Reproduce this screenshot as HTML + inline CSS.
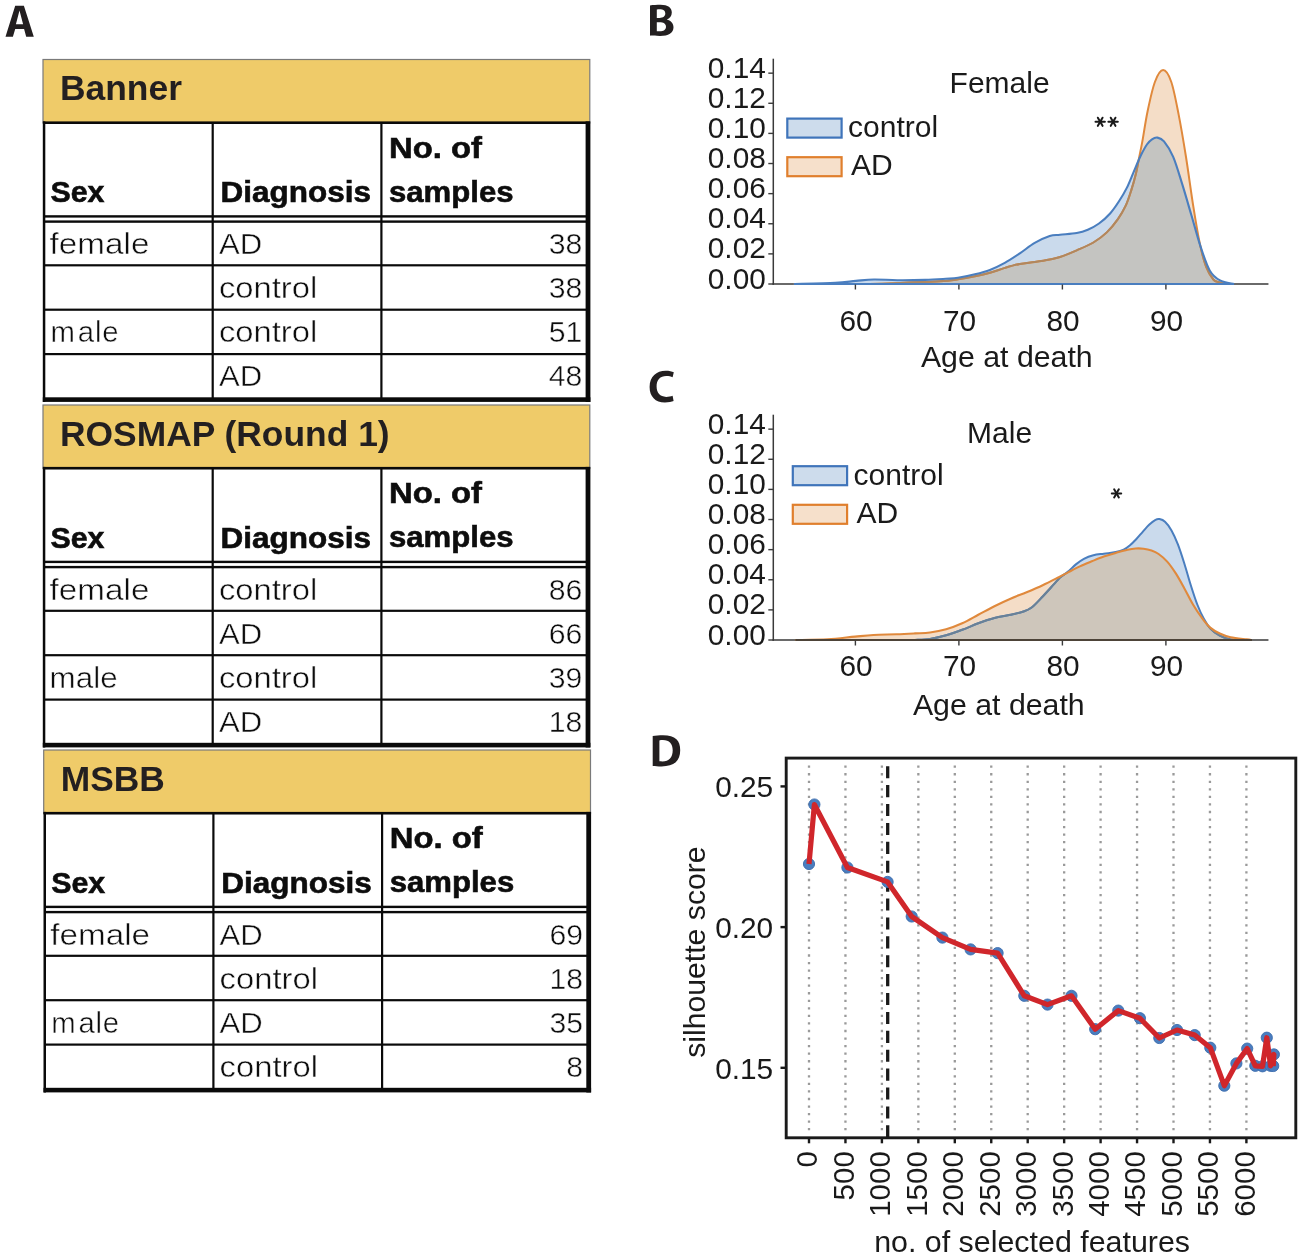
<!DOCTYPE html>
<html><head><meta charset="utf-8"><title>Figure</title>
<style>
html,body{margin:0;padding:0;background:#fff;}
body{width:1304px;height:1257px;overflow:hidden;}
svg{display:block;will-change:transform;}
text{font-family:"Liberation Sans", sans-serif;}
</style></head><body>
<svg width="1304" height="1257" viewBox="0 0 1304 1257">
<rect x="0" y="0" width="1304" height="1257" fill="#ffffff"/>

<path fill="#231f20" fill-rule="evenodd" d="M5.5,36.8 L15.2,5.8 L23.9,5.8 L33.8,36.8 L26.2,36.8 L24.1,29 L15.2,29 L12.9,36.8 Z M15.9,24.2 L23.1,24.2 L19.5,10.6 Z"/>
<path fill="#231f20" fill-rule="evenodd" transform="translate(640,0)" d="M10,5.4 C13,5.0 17,4.8 20.5,4.8 C28,4.8 31.8,7.8 31.8,12.4 C31.8,16 29.6,18.4 26.8,19.4 C30.6,20.4 33.5,23 33.5,27.2 C33.5,33 28.5,35.9 20,35.9 C15.5,35.9 12,35.7 10,35.5 Z M16.8,9.5 L16.8,17.9 L19.6,17.9 C23.2,17.9 25.3,16.3 25.3,13.5 C25.3,10.6 23,9.3 19.8,9.3 C18.3,9.3 17.4,9.4 16.8,9.5 Z M16.8,22.3 L16.8,31.2 C17.5,31.3 18.5,31.3 19.8,31.3 C23.4,31.3 26,29.9 26,26.7 C26,23.6 23.3,22.3 19.6,22.3 Z"/>
<path fill="#231f20" transform="translate(640,365)" d="M33.6,36.1 C31.8,36.9 28.6,37.5 24.9,37.5 C15.3,37.5 9.6,31.4 9.6,21.9 C9.6,11.6 16.4,5.7 25.7,5.7 C29.3,5.7 31.9,6.4 33.8,7.3 L32.6,12.3 C31,11.6 28.9,11.1 26.2,11.1 C20.2,11.1 16.6,15 16.6,21.6 C16.6,27.9 20,31.9 26.2,31.9 C28.6,31.9 31,31.4 32.6,30.8 Z"/>
<path fill="#231f20" fill-rule="evenodd" transform="translate(640,728)" d="M12.7,7.9 C15.5,7.4 19.3,7.2 23,7.2 C29.3,7.2 33.6,8.6 36.4,11.3 C39,13.8 40.2,17.3 40.2,22.2 C40.2,27.6 38.6,31.7 35.7,34.3 C32.7,37 27.9,38.4 21.6,38.4 C17.9,38.4 15,38.2 12.7,37.9 Z M19.4,33.3 C20.2,33.4 21.3,33.4 22.5,33.4 C29,33.4 32.7,29.6 32.7,22.3 C32.7,16 29.4,12.1 22.9,12.1 C21.3,12.1 20.1,12.2 19.4,12.4 Z"/>
<g transform="translate(0,0)">
<rect x="43.0" y="59.5" width="546.8" height="63.5" fill="#efcb69" stroke="#7a7a7a" stroke-width="1.2"/>
<text x="60" y="100.4" font-size="35.4" font-weight="bold" fill="#231f20">Banner</text>
<rect x="43.0" y="121.4" width="546.8" height="2.6" fill="#0a0a0a"/>
<rect x="42.8" y="121.4" width="2.5" height="280.6" fill="#0a0a0a"/>
<rect x="585.6" y="121.4" width="4.8" height="280.6" fill="#0a0a0a"/>
<rect x="42.8" y="397.3" width="547.6" height="4.6" fill="#0a0a0a"/>
<rect x="211.6" y="122.7" width="2.2" height="276.3" fill="#0a0a0a"/>
<rect x="380.3" y="122.7" width="2.2" height="276.3" fill="#0a0a0a"/>
<rect x="44" y="215.2" width="543" height="2.4" fill="#0a0a0a"/>
<rect x="44" y="220.4" width="543" height="2.4" fill="#0a0a0a"/>
<rect x="44" y="264.2" width="543" height="2.2" fill="#0a0a0a"/>
<rect x="44" y="308.6" width="543" height="2.2" fill="#0a0a0a"/>
<rect x="44" y="353.0" width="543" height="2.2" fill="#0a0a0a"/>
<text x="50.5" y="202.0" font-size="29.5" font-weight="bold" fill="#0d0d0d" stroke="#0d0d0d" stroke-width="0.6" textLength="54" lengthAdjust="spacingAndGlyphs">Sex</text>
<text x="220.5" y="202.0" font-size="29.5" font-weight="bold" fill="#0d0d0d" stroke="#0d0d0d" stroke-width="0.6" textLength="150.5" lengthAdjust="spacingAndGlyphs">Diagnosis</text>
<text x="389" y="157.5" font-size="29.5" font-weight="bold" fill="#0d0d0d" stroke="#0d0d0d" stroke-width="0.6" textLength="93" lengthAdjust="spacingAndGlyphs">No. of</text>
<text x="389" y="201.8" font-size="29.5" font-weight="bold" fill="#0d0d0d" stroke="#0d0d0d" stroke-width="0.6" textLength="124.5" lengthAdjust="spacingAndGlyphs">samples</text>
<text x="49.6" y="254.4" font-size="29.3" fill="#0d0d0d" stroke="#ffffff" stroke-width="0.45" textLength="99.8" lengthAdjust="spacingAndGlyphs">female</text>
<text x="218.9" y="254.4" font-size="29.3" fill="#0d0d0d" stroke="#ffffff" stroke-width="0.45" textLength="43.2" lengthAdjust="spacingAndGlyphs">AD</text>
<text x="582.3" y="254.4" font-size="30.2" fill="#0d0d0d" stroke="#ffffff" stroke-width="0.45" text-anchor="end">38</text>
<text x="218.9" y="298.3" font-size="29.3" fill="#0d0d0d" stroke="#ffffff" stroke-width="0.45" textLength="98.4" lengthAdjust="spacingAndGlyphs">control</text>
<text x="582.3" y="298.3" font-size="30.2" fill="#0d0d0d" stroke="#ffffff" stroke-width="0.45" text-anchor="end">38</text>
<text x="50.5" y="342.4" font-size="29.3" fill="#0d0d0d" stroke="#ffffff" stroke-width="0.45" letter-spacing="0.75">m<tspan dx="2.2">ale</tspan></text>
<text x="218.9" y="342.4" font-size="29.3" fill="#0d0d0d" stroke="#ffffff" stroke-width="0.45" textLength="98.4" lengthAdjust="spacingAndGlyphs">control</text>
<text x="582.3" y="342.4" font-size="30.2" fill="#0d0d0d" stroke="#ffffff" stroke-width="0.45" text-anchor="end">51</text>
<text x="218.9" y="386.3" font-size="29.3" fill="#0d0d0d" stroke="#ffffff" stroke-width="0.45" textLength="43.2" lengthAdjust="spacingAndGlyphs">AD</text>
<text x="582.3" y="386.3" font-size="30.2" fill="#0d0d0d" stroke="#ffffff" stroke-width="0.45" text-anchor="end">48</text>
</g>
<g transform="translate(0,0)">
<rect x="43.0" y="405.0" width="546.8" height="63.5" fill="#efcb69" stroke="#7a7a7a" stroke-width="1.2"/>
<text x="60" y="445.9" font-size="35.4" font-weight="bold" fill="#231f20">ROSMAP (Round 1)</text>
<rect x="43.0" y="466.9" width="546.8" height="2.6" fill="#0a0a0a"/>
<rect x="42.8" y="466.9" width="2.5" height="280.6" fill="#0a0a0a"/>
<rect x="585.6" y="466.9" width="4.8" height="280.6" fill="#0a0a0a"/>
<rect x="42.8" y="742.8" width="547.6" height="4.6" fill="#0a0a0a"/>
<rect x="211.6" y="468.2" width="2.2" height="276.3" fill="#0a0a0a"/>
<rect x="380.3" y="468.2" width="2.2" height="276.3" fill="#0a0a0a"/>
<rect x="44" y="560.7" width="543" height="2.4" fill="#0a0a0a"/>
<rect x="44" y="565.9" width="543" height="2.4" fill="#0a0a0a"/>
<rect x="44" y="609.7" width="543" height="2.2" fill="#0a0a0a"/>
<rect x="44" y="654.1" width="543" height="2.2" fill="#0a0a0a"/>
<rect x="44" y="698.5" width="543" height="2.2" fill="#0a0a0a"/>
<text x="50.5" y="547.5" font-size="29.5" font-weight="bold" fill="#0d0d0d" stroke="#0d0d0d" stroke-width="0.6" textLength="54" lengthAdjust="spacingAndGlyphs">Sex</text>
<text x="220.5" y="547.5" font-size="29.5" font-weight="bold" fill="#0d0d0d" stroke="#0d0d0d" stroke-width="0.6" textLength="150.5" lengthAdjust="spacingAndGlyphs">Diagnosis</text>
<text x="389" y="503.0" font-size="29.5" font-weight="bold" fill="#0d0d0d" stroke="#0d0d0d" stroke-width="0.6" textLength="93" lengthAdjust="spacingAndGlyphs">No. of</text>
<text x="389" y="547.3" font-size="29.5" font-weight="bold" fill="#0d0d0d" stroke="#0d0d0d" stroke-width="0.6" textLength="124.5" lengthAdjust="spacingAndGlyphs">samples</text>
<text x="49.6" y="599.9" font-size="29.3" fill="#0d0d0d" stroke="#ffffff" stroke-width="0.45" textLength="99.8" lengthAdjust="spacingAndGlyphs">female</text>
<text x="218.9" y="599.9" font-size="29.3" fill="#0d0d0d" stroke="#ffffff" stroke-width="0.45" textLength="98.4" lengthAdjust="spacingAndGlyphs">control</text>
<text x="582.3" y="599.9" font-size="30.2" fill="#0d0d0d" stroke="#ffffff" stroke-width="0.45" text-anchor="end">86</text>
<text x="218.9" y="643.8" font-size="29.3" fill="#0d0d0d" stroke="#ffffff" stroke-width="0.45" textLength="43.2" lengthAdjust="spacingAndGlyphs">AD</text>
<text x="582.3" y="643.8" font-size="30.2" fill="#0d0d0d" stroke="#ffffff" stroke-width="0.45" text-anchor="end">66</text>
<text x="49.6" y="687.9" font-size="29.3" fill="#0d0d0d" stroke="#ffffff" stroke-width="0.45" textLength="68" lengthAdjust="spacingAndGlyphs">male</text>
<text x="218.9" y="687.9" font-size="29.3" fill="#0d0d0d" stroke="#ffffff" stroke-width="0.45" textLength="98.4" lengthAdjust="spacingAndGlyphs">control</text>
<text x="582.3" y="687.9" font-size="30.2" fill="#0d0d0d" stroke="#ffffff" stroke-width="0.45" text-anchor="end">39</text>
<text x="218.9" y="731.8" font-size="29.3" fill="#0d0d0d" stroke="#ffffff" stroke-width="0.45" textLength="43.2" lengthAdjust="spacingAndGlyphs">AD</text>
<text x="582.3" y="731.8" font-size="30.2" fill="#0d0d0d" stroke="#ffffff" stroke-width="0.45" text-anchor="end">18</text>
</g>
<g transform="translate(0.7,0)">
<rect x="43.0" y="750.0" width="546.8" height="63.5" fill="#efcb69" stroke="#7a7a7a" stroke-width="1.2"/>
<text x="60" y="790.9" font-size="35.4" font-weight="bold" fill="#231f20">MSBB</text>
<rect x="43.0" y="811.9" width="546.8" height="2.6" fill="#0a0a0a"/>
<rect x="42.8" y="811.9" width="2.5" height="280.6" fill="#0a0a0a"/>
<rect x="585.6" y="811.9" width="4.8" height="280.6" fill="#0a0a0a"/>
<rect x="42.8" y="1087.8" width="547.6" height="4.6" fill="#0a0a0a"/>
<rect x="211.6" y="813.2" width="2.2" height="276.3" fill="#0a0a0a"/>
<rect x="380.3" y="813.2" width="2.2" height="276.3" fill="#0a0a0a"/>
<rect x="44" y="905.7" width="543" height="2.4" fill="#0a0a0a"/>
<rect x="44" y="910.9" width="543" height="2.4" fill="#0a0a0a"/>
<rect x="44" y="954.7" width="543" height="2.2" fill="#0a0a0a"/>
<rect x="44" y="999.1" width="543" height="2.2" fill="#0a0a0a"/>
<rect x="44" y="1043.5" width="543" height="2.2" fill="#0a0a0a"/>
<text x="50.5" y="892.5" font-size="29.5" font-weight="bold" fill="#0d0d0d" stroke="#0d0d0d" stroke-width="0.6" textLength="54" lengthAdjust="spacingAndGlyphs">Sex</text>
<text x="220.5" y="892.5" font-size="29.5" font-weight="bold" fill="#0d0d0d" stroke="#0d0d0d" stroke-width="0.6" textLength="150.5" lengthAdjust="spacingAndGlyphs">Diagnosis</text>
<text x="389" y="848.0" font-size="29.5" font-weight="bold" fill="#0d0d0d" stroke="#0d0d0d" stroke-width="0.6" textLength="93" lengthAdjust="spacingAndGlyphs">No. of</text>
<text x="389" y="892.3" font-size="29.5" font-weight="bold" fill="#0d0d0d" stroke="#0d0d0d" stroke-width="0.6" textLength="124.5" lengthAdjust="spacingAndGlyphs">samples</text>
<text x="49.6" y="944.9" font-size="29.3" fill="#0d0d0d" stroke="#ffffff" stroke-width="0.45" textLength="99.8" lengthAdjust="spacingAndGlyphs">female</text>
<text x="218.9" y="944.9" font-size="29.3" fill="#0d0d0d" stroke="#ffffff" stroke-width="0.45" textLength="43.2" lengthAdjust="spacingAndGlyphs">AD</text>
<text x="582.3" y="944.9" font-size="30.2" fill="#0d0d0d" stroke="#ffffff" stroke-width="0.45" text-anchor="end">69</text>
<text x="218.9" y="988.8" font-size="29.3" fill="#0d0d0d" stroke="#ffffff" stroke-width="0.45" textLength="98.4" lengthAdjust="spacingAndGlyphs">control</text>
<text x="582.3" y="988.8" font-size="30.2" fill="#0d0d0d" stroke="#ffffff" stroke-width="0.45" text-anchor="end">18</text>
<text x="50.5" y="1032.9" font-size="29.3" fill="#0d0d0d" stroke="#ffffff" stroke-width="0.45" letter-spacing="0.75">m<tspan dx="2.2">ale</tspan></text>
<text x="218.9" y="1032.9" font-size="29.3" fill="#0d0d0d" stroke="#ffffff" stroke-width="0.45" textLength="43.2" lengthAdjust="spacingAndGlyphs">AD</text>
<text x="582.3" y="1032.9" font-size="30.2" fill="#0d0d0d" stroke="#ffffff" stroke-width="0.45" text-anchor="end">35</text>
<text x="218.9" y="1076.8" font-size="29.3" fill="#0d0d0d" stroke="#ffffff" stroke-width="0.45" textLength="98.4" lengthAdjust="spacingAndGlyphs">control</text>
<text x="582.3" y="1076.8" font-size="30.2" fill="#0d0d0d" stroke="#ffffff" stroke-width="0.45" text-anchor="end">8</text>
</g>
<rect x="772.55" y="58.70" width="1.5" height="226.05" fill="#3a3a3a"/>
<rect x="772.55" y="283.25" width="495.90" height="1.5" fill="#3a3a3a"/>
<clipPath id="clipC284"><path d="M793.80,284.00 C800.70,283.82 824.85,283.42 835.20,282.90 C845.55,282.38 849.45,281.47 855.90,280.90 C862.35,280.33 867.00,279.62 873.90,279.50 C880.80,279.38 888.78,280.13 897.30,280.20 C905.82,280.27 916.93,280.13 925.00,279.90 C933.07,279.67 940.20,279.15 945.70,278.80 C951.20,278.45 953.13,278.55 958.00,277.80 C962.87,277.05 969.58,275.62 974.90,274.30 C980.22,272.98 984.92,271.80 989.90,269.90 C994.88,268.00 999.82,265.65 1004.80,262.90 C1009.78,260.15 1014.82,256.73 1019.80,253.40 C1024.78,250.07 1029.72,245.80 1034.70,242.90 C1039.68,240.00 1045.48,237.37 1049.70,236.00 C1053.92,234.63 1055.50,235.20 1060.00,234.70 C1064.50,234.20 1072.07,233.83 1076.70,233.00 C1081.33,232.17 1084.08,231.28 1087.80,229.70 C1091.52,228.12 1095.28,226.20 1099.00,223.50 C1102.72,220.80 1106.77,217.20 1110.10,213.50 C1113.43,209.80 1116.22,205.57 1119.00,201.30 C1121.78,197.03 1124.38,192.73 1126.80,187.90 C1129.22,183.07 1131.27,177.50 1133.50,172.30 C1135.73,167.10 1137.97,161.33 1140.20,156.70 C1142.43,152.07 1144.93,147.40 1146.90,144.50 C1148.87,141.60 1150.27,140.45 1152.00,139.30 C1153.73,138.15 1155.30,137.25 1157.30,137.60 C1159.30,137.95 1161.35,138.18 1164.00,141.40 C1166.65,144.62 1170.15,149.73 1173.20,156.90 C1176.25,164.07 1179.25,174.63 1182.30,184.40 C1185.35,194.17 1188.45,205.13 1191.50,215.50 C1194.55,225.87 1197.57,237.45 1200.60,246.60 C1203.63,255.75 1206.47,264.77 1209.70,270.40 C1212.93,276.03 1215.95,278.13 1220.00,280.40 C1224.05,282.67 1231.67,283.40 1234.00,284.00 L1234.00,284.00 L793.80,284.00 Z"/></clipPath>
<clipPath id="clipA284"><path d="M793.80,284.00 C806.45,283.98 851.30,284.12 869.70,283.90 C888.10,283.68 892.48,283.13 904.20,282.70 C915.92,282.27 931.03,281.87 940.00,281.30 C948.97,280.73 952.18,280.13 958.00,279.30 C963.82,278.47 969.58,277.38 974.90,276.30 C980.22,275.22 984.92,274.20 989.90,272.80 C994.88,271.40 999.82,269.38 1004.80,267.90 C1009.78,266.42 1014.82,264.90 1019.80,263.90 C1024.78,262.90 1029.72,262.65 1034.70,261.90 C1039.68,261.15 1045.48,260.22 1049.70,259.40 C1053.92,258.58 1055.50,258.52 1060.00,257.00 C1064.50,255.48 1071.13,252.72 1076.70,250.30 C1082.27,247.88 1088.38,245.48 1093.40,242.50 C1098.42,239.52 1102.72,236.30 1106.80,232.40 C1110.88,228.50 1114.75,223.55 1117.90,219.10 C1121.05,214.65 1123.47,210.53 1125.70,205.70 C1127.93,200.87 1129.63,195.30 1131.30,190.10 C1132.97,184.90 1134.40,179.88 1135.70,174.50 C1137.00,169.12 1137.98,163.37 1139.10,157.80 C1140.22,152.23 1140.98,148.87 1142.40,141.10 C1143.82,133.33 1145.52,121.05 1147.60,111.20 C1149.68,101.35 1152.32,88.85 1154.90,82.00 C1157.48,75.15 1160.37,70.10 1163.10,70.10 C1165.83,70.10 1168.70,74.53 1171.30,82.00 C1173.90,89.47 1176.25,102.40 1178.70,114.90 C1181.15,127.40 1183.57,141.77 1186.00,157.00 C1188.43,172.23 1191.02,191.98 1193.30,206.30 C1195.58,220.62 1197.57,232.83 1199.70,242.90 C1201.83,252.97 1203.82,260.60 1206.10,266.70 C1208.38,272.80 1211.27,276.92 1213.40,279.50 C1215.53,282.08 1216.80,281.45 1218.90,282.20 C1221.00,282.95 1224.82,283.70 1226.00,284.00 L1226.00,284.00 L793.80,284.00 Z"/></clipPath>
<path d="M793.80,284.00 C806.45,283.98 851.30,284.12 869.70,283.90 C888.10,283.68 892.48,283.13 904.20,282.70 C915.92,282.27 931.03,281.87 940.00,281.30 C948.97,280.73 952.18,280.13 958.00,279.30 C963.82,278.47 969.58,277.38 974.90,276.30 C980.22,275.22 984.92,274.20 989.90,272.80 C994.88,271.40 999.82,269.38 1004.80,267.90 C1009.78,266.42 1014.82,264.90 1019.80,263.90 C1024.78,262.90 1029.72,262.65 1034.70,261.90 C1039.68,261.15 1045.48,260.22 1049.70,259.40 C1053.92,258.58 1055.50,258.52 1060.00,257.00 C1064.50,255.48 1071.13,252.72 1076.70,250.30 C1082.27,247.88 1088.38,245.48 1093.40,242.50 C1098.42,239.52 1102.72,236.30 1106.80,232.40 C1110.88,228.50 1114.75,223.55 1117.90,219.10 C1121.05,214.65 1123.47,210.53 1125.70,205.70 C1127.93,200.87 1129.63,195.30 1131.30,190.10 C1132.97,184.90 1134.40,179.88 1135.70,174.50 C1137.00,169.12 1137.98,163.37 1139.10,157.80 C1140.22,152.23 1140.98,148.87 1142.40,141.10 C1143.82,133.33 1145.52,121.05 1147.60,111.20 C1149.68,101.35 1152.32,88.85 1154.90,82.00 C1157.48,75.15 1160.37,70.10 1163.10,70.10 C1165.83,70.10 1168.70,74.53 1171.30,82.00 C1173.90,89.47 1176.25,102.40 1178.70,114.90 C1181.15,127.40 1183.57,141.77 1186.00,157.00 C1188.43,172.23 1191.02,191.98 1193.30,206.30 C1195.58,220.62 1197.57,232.83 1199.70,242.90 C1201.83,252.97 1203.82,260.60 1206.10,266.70 C1208.38,272.80 1211.27,276.92 1213.40,279.50 C1215.53,282.08 1216.80,281.45 1218.90,282.20 C1221.00,282.95 1224.82,283.70 1226.00,284.00 L1226.00,284.00 L793.80,284.00 Z" fill="#f4ddc7"/>
<path d="M793.80,284.00 C800.70,283.82 824.85,283.42 835.20,282.90 C845.55,282.38 849.45,281.47 855.90,280.90 C862.35,280.33 867.00,279.62 873.90,279.50 C880.80,279.38 888.78,280.13 897.30,280.20 C905.82,280.27 916.93,280.13 925.00,279.90 C933.07,279.67 940.20,279.15 945.70,278.80 C951.20,278.45 953.13,278.55 958.00,277.80 C962.87,277.05 969.58,275.62 974.90,274.30 C980.22,272.98 984.92,271.80 989.90,269.90 C994.88,268.00 999.82,265.65 1004.80,262.90 C1009.78,260.15 1014.82,256.73 1019.80,253.40 C1024.78,250.07 1029.72,245.80 1034.70,242.90 C1039.68,240.00 1045.48,237.37 1049.70,236.00 C1053.92,234.63 1055.50,235.20 1060.00,234.70 C1064.50,234.20 1072.07,233.83 1076.70,233.00 C1081.33,232.17 1084.08,231.28 1087.80,229.70 C1091.52,228.12 1095.28,226.20 1099.00,223.50 C1102.72,220.80 1106.77,217.20 1110.10,213.50 C1113.43,209.80 1116.22,205.57 1119.00,201.30 C1121.78,197.03 1124.38,192.73 1126.80,187.90 C1129.22,183.07 1131.27,177.50 1133.50,172.30 C1135.73,167.10 1137.97,161.33 1140.20,156.70 C1142.43,152.07 1144.93,147.40 1146.90,144.50 C1148.87,141.60 1150.27,140.45 1152.00,139.30 C1153.73,138.15 1155.30,137.25 1157.30,137.60 C1159.30,137.95 1161.35,138.18 1164.00,141.40 C1166.65,144.62 1170.15,149.73 1173.20,156.90 C1176.25,164.07 1179.25,174.63 1182.30,184.40 C1185.35,194.17 1188.45,205.13 1191.50,215.50 C1194.55,225.87 1197.57,237.45 1200.60,246.60 C1203.63,255.75 1206.47,264.77 1209.70,270.40 C1212.93,276.03 1215.95,278.13 1220.00,280.40 C1224.05,282.67 1231.67,283.40 1234.00,284.00 L1234.00,284.00 L793.80,284.00 Z" fill="#cadaec"/>
<path d="M793.80,284.00 C800.70,283.82 824.85,283.42 835.20,282.90 C845.55,282.38 849.45,281.47 855.90,280.90 C862.35,280.33 867.00,279.62 873.90,279.50 C880.80,279.38 888.78,280.13 897.30,280.20 C905.82,280.27 916.93,280.13 925.00,279.90 C933.07,279.67 940.20,279.15 945.70,278.80 C951.20,278.45 953.13,278.55 958.00,277.80 C962.87,277.05 969.58,275.62 974.90,274.30 C980.22,272.98 984.92,271.80 989.90,269.90 C994.88,268.00 999.82,265.65 1004.80,262.90 C1009.78,260.15 1014.82,256.73 1019.80,253.40 C1024.78,250.07 1029.72,245.80 1034.70,242.90 C1039.68,240.00 1045.48,237.37 1049.70,236.00 C1053.92,234.63 1055.50,235.20 1060.00,234.70 C1064.50,234.20 1072.07,233.83 1076.70,233.00 C1081.33,232.17 1084.08,231.28 1087.80,229.70 C1091.52,228.12 1095.28,226.20 1099.00,223.50 C1102.72,220.80 1106.77,217.20 1110.10,213.50 C1113.43,209.80 1116.22,205.57 1119.00,201.30 C1121.78,197.03 1124.38,192.73 1126.80,187.90 C1129.22,183.07 1131.27,177.50 1133.50,172.30 C1135.73,167.10 1137.97,161.33 1140.20,156.70 C1142.43,152.07 1144.93,147.40 1146.90,144.50 C1148.87,141.60 1150.27,140.45 1152.00,139.30 C1153.73,138.15 1155.30,137.25 1157.30,137.60 C1159.30,137.95 1161.35,138.18 1164.00,141.40 C1166.65,144.62 1170.15,149.73 1173.20,156.90 C1176.25,164.07 1179.25,174.63 1182.30,184.40 C1185.35,194.17 1188.45,205.13 1191.50,215.50 C1194.55,225.87 1197.57,237.45 1200.60,246.60 C1203.63,255.75 1206.47,264.77 1209.70,270.40 C1212.93,276.03 1215.95,278.13 1220.00,280.40 C1224.05,282.67 1231.67,283.40 1234.00,284.00 L1234.00,284.00 L793.80,284.00 Z" fill="#c4c4c1" clip-path="url(#clipA284)"/>
<path d="M793.80,284.00 C806.45,283.98 851.30,284.12 869.70,283.90 C888.10,283.68 892.48,283.13 904.20,282.70 C915.92,282.27 931.03,281.87 940.00,281.30 C948.97,280.73 952.18,280.13 958.00,279.30 C963.82,278.47 969.58,277.38 974.90,276.30 C980.22,275.22 984.92,274.20 989.90,272.80 C994.88,271.40 999.82,269.38 1004.80,267.90 C1009.78,266.42 1014.82,264.90 1019.80,263.90 C1024.78,262.90 1029.72,262.65 1034.70,261.90 C1039.68,261.15 1045.48,260.22 1049.70,259.40 C1053.92,258.58 1055.50,258.52 1060.00,257.00 C1064.50,255.48 1071.13,252.72 1076.70,250.30 C1082.27,247.88 1088.38,245.48 1093.40,242.50 C1098.42,239.52 1102.72,236.30 1106.80,232.40 C1110.88,228.50 1114.75,223.55 1117.90,219.10 C1121.05,214.65 1123.47,210.53 1125.70,205.70 C1127.93,200.87 1129.63,195.30 1131.30,190.10 C1132.97,184.90 1134.40,179.88 1135.70,174.50 C1137.00,169.12 1137.98,163.37 1139.10,157.80 C1140.22,152.23 1140.98,148.87 1142.40,141.10 C1143.82,133.33 1145.52,121.05 1147.60,111.20 C1149.68,101.35 1152.32,88.85 1154.90,82.00 C1157.48,75.15 1160.37,70.10 1163.10,70.10 C1165.83,70.10 1168.70,74.53 1171.30,82.00 C1173.90,89.47 1176.25,102.40 1178.70,114.90 C1181.15,127.40 1183.57,141.77 1186.00,157.00 C1188.43,172.23 1191.02,191.98 1193.30,206.30 C1195.58,220.62 1197.57,232.83 1199.70,242.90 C1201.83,252.97 1203.82,260.60 1206.10,266.70 C1208.38,272.80 1211.27,276.92 1213.40,279.50 C1215.53,282.08 1216.80,281.45 1218.90,282.20 C1221.00,282.95 1224.82,283.70 1226.00,284.00" fill="none" stroke="#e0893c" stroke-width="2"/>
<path d="M793.80,284.00 C806.45,283.98 851.30,284.12 869.70,283.90 C888.10,283.68 892.48,283.13 904.20,282.70 C915.92,282.27 931.03,281.87 940.00,281.30 C948.97,280.73 952.18,280.13 958.00,279.30 C963.82,278.47 969.58,277.38 974.90,276.30 C980.22,275.22 984.92,274.20 989.90,272.80 C994.88,271.40 999.82,269.38 1004.80,267.90 C1009.78,266.42 1014.82,264.90 1019.80,263.90 C1024.78,262.90 1029.72,262.65 1034.70,261.90 C1039.68,261.15 1045.48,260.22 1049.70,259.40 C1053.92,258.58 1055.50,258.52 1060.00,257.00 C1064.50,255.48 1071.13,252.72 1076.70,250.30 C1082.27,247.88 1088.38,245.48 1093.40,242.50 C1098.42,239.52 1102.72,236.30 1106.80,232.40 C1110.88,228.50 1114.75,223.55 1117.90,219.10 C1121.05,214.65 1123.47,210.53 1125.70,205.70 C1127.93,200.87 1129.63,195.30 1131.30,190.10 C1132.97,184.90 1134.40,179.88 1135.70,174.50 C1137.00,169.12 1137.98,163.37 1139.10,157.80 C1140.22,152.23 1140.98,148.87 1142.40,141.10 C1143.82,133.33 1145.52,121.05 1147.60,111.20 C1149.68,101.35 1152.32,88.85 1154.90,82.00 C1157.48,75.15 1160.37,70.10 1163.10,70.10 C1165.83,70.10 1168.70,74.53 1171.30,82.00 C1173.90,89.47 1176.25,102.40 1178.70,114.90 C1181.15,127.40 1183.57,141.77 1186.00,157.00 C1188.43,172.23 1191.02,191.98 1193.30,206.30 C1195.58,220.62 1197.57,232.83 1199.70,242.90 C1201.83,252.97 1203.82,260.60 1206.10,266.70 C1208.38,272.80 1211.27,276.92 1213.40,279.50 C1215.53,282.08 1216.80,281.45 1218.90,282.20 C1221.00,282.95 1224.82,283.70 1226.00,284.00" fill="none" stroke="#b0875f" stroke-width="2" clip-path="url(#clipC284)"/>
<path d="M793.80,284.00 C800.70,283.82 824.85,283.42 835.20,282.90 C845.55,282.38 849.45,281.47 855.90,280.90 C862.35,280.33 867.00,279.62 873.90,279.50 C880.80,279.38 888.78,280.13 897.30,280.20 C905.82,280.27 916.93,280.13 925.00,279.90 C933.07,279.67 940.20,279.15 945.70,278.80 C951.20,278.45 953.13,278.55 958.00,277.80 C962.87,277.05 969.58,275.62 974.90,274.30 C980.22,272.98 984.92,271.80 989.90,269.90 C994.88,268.00 999.82,265.65 1004.80,262.90 C1009.78,260.15 1014.82,256.73 1019.80,253.40 C1024.78,250.07 1029.72,245.80 1034.70,242.90 C1039.68,240.00 1045.48,237.37 1049.70,236.00 C1053.92,234.63 1055.50,235.20 1060.00,234.70 C1064.50,234.20 1072.07,233.83 1076.70,233.00 C1081.33,232.17 1084.08,231.28 1087.80,229.70 C1091.52,228.12 1095.28,226.20 1099.00,223.50 C1102.72,220.80 1106.77,217.20 1110.10,213.50 C1113.43,209.80 1116.22,205.57 1119.00,201.30 C1121.78,197.03 1124.38,192.73 1126.80,187.90 C1129.22,183.07 1131.27,177.50 1133.50,172.30 C1135.73,167.10 1137.97,161.33 1140.20,156.70 C1142.43,152.07 1144.93,147.40 1146.90,144.50 C1148.87,141.60 1150.27,140.45 1152.00,139.30 C1153.73,138.15 1155.30,137.25 1157.30,137.60 C1159.30,137.95 1161.35,138.18 1164.00,141.40 C1166.65,144.62 1170.15,149.73 1173.20,156.90 C1176.25,164.07 1179.25,174.63 1182.30,184.40 C1185.35,194.17 1188.45,205.13 1191.50,215.50 C1194.55,225.87 1197.57,237.45 1200.60,246.60 C1203.63,255.75 1206.47,264.77 1209.70,270.40 C1212.93,276.03 1215.95,278.13 1220.00,280.40 C1224.05,282.67 1231.67,283.40 1234.00,284.00 L1234.00,284.00 L793.80,284.00 Z" fill="none" stroke="#4a7ebf" stroke-width="2.1"/>
<rect x="768.30" y="283.30" width="5" height="1.4" fill="#3a3a3a"/>
<text x="765.8" y="288.50" font-size="29.8" fill="#1a1a1a" text-anchor="end">0.00</text>
<rect x="768.30" y="253.18" width="5" height="1.4" fill="#3a3a3a"/>
<text x="765.8" y="258.38" font-size="29.8" fill="#1a1a1a" text-anchor="end">0.02</text>
<rect x="768.30" y="223.06" width="5" height="1.4" fill="#3a3a3a"/>
<text x="765.8" y="228.26" font-size="29.8" fill="#1a1a1a" text-anchor="end">0.04</text>
<rect x="768.30" y="192.94" width="5" height="1.4" fill="#3a3a3a"/>
<text x="765.8" y="198.14" font-size="29.8" fill="#1a1a1a" text-anchor="end">0.06</text>
<rect x="768.30" y="162.82" width="5" height="1.4" fill="#3a3a3a"/>
<text x="765.8" y="168.02" font-size="29.8" fill="#1a1a1a" text-anchor="end">0.08</text>
<rect x="768.30" y="132.70" width="5" height="1.4" fill="#3a3a3a"/>
<text x="765.8" y="137.90" font-size="29.8" fill="#1a1a1a" text-anchor="end">0.10</text>
<rect x="768.30" y="102.58" width="5" height="1.4" fill="#3a3a3a"/>
<text x="765.8" y="107.78" font-size="29.8" fill="#1a1a1a" text-anchor="end">0.12</text>
<rect x="768.30" y="72.46" width="5" height="1.4" fill="#3a3a3a"/>
<text x="765.8" y="77.66" font-size="29.8" fill="#1a1a1a" text-anchor="end">0.14</text>
<rect x="854.70" y="284.50" width="1.4" height="5" fill="#3a3a3a"/>
<text x="856.00" y="331.20" font-size="29.8" fill="#1a1a1a" text-anchor="middle">60</text>
<rect x="958.20" y="284.50" width="1.4" height="5" fill="#3a3a3a"/>
<text x="959.50" y="331.20" font-size="29.8" fill="#1a1a1a" text-anchor="middle">70</text>
<rect x="1061.70" y="284.50" width="1.4" height="5" fill="#3a3a3a"/>
<text x="1063.00" y="331.20" font-size="29.8" fill="#1a1a1a" text-anchor="middle">80</text>
<rect x="1165.20" y="284.50" width="1.4" height="5" fill="#3a3a3a"/>
<text x="1166.50" y="331.20" font-size="29.8" fill="#1a1a1a" text-anchor="middle">90</text>
<text x="1006.80" y="366.60" font-size="30.3" fill="#1a1a1a" text-anchor="middle">Age at death</text>
<text x="999.6" y="92.50" font-size="30" fill="#1a1a1a" text-anchor="middle">Female</text>
<g stroke="#1a1a1a" stroke-width="2.0" stroke-linecap="round"><line x1="1101.10" y1="121.80" x2="1104.90" y2="121.80"/><line x1="1100.65" y1="122.58" x2="1102.55" y2="125.87"/><line x1="1099.75" y1="122.58" x2="1097.85" y2="125.87"/><line x1="1099.30" y1="121.80" x2="1095.50" y2="121.80"/><line x1="1099.75" y1="121.02" x2="1097.85" y2="117.73"/><line x1="1100.65" y1="121.02" x2="1102.55" y2="117.73"/></g>
<g stroke="#1a1a1a" stroke-width="2.0" stroke-linecap="round"><line x1="1114.00" y1="121.80" x2="1117.80" y2="121.80"/><line x1="1113.55" y1="122.58" x2="1115.45" y2="125.87"/><line x1="1112.65" y1="122.58" x2="1110.75" y2="125.87"/><line x1="1112.20" y1="121.80" x2="1108.40" y2="121.80"/><line x1="1112.65" y1="121.02" x2="1110.75" y2="117.73"/><line x1="1113.55" y1="121.02" x2="1115.45" y2="117.73"/></g>
<rect x="787.30" y="118.60" width="54.3" height="19" fill="#cddcec" stroke="#3f74ba" stroke-width="2.2"/>
<rect x="787.30" y="157.20" width="54.3" height="19" fill="#f6e0cb" stroke="#e07f2d" stroke-width="2.2"/>
<text x="848.10" y="136.90" font-size="30" fill="#1a1a1a">control</text>
<text x="850.90" y="175.40" font-size="30" fill="#1a1a1a">AD</text>
<rect x="772.55" y="414.70" width="1.5" height="226.05" fill="#3a3a3a"/>
<rect x="772.55" y="639.25" width="495.90" height="1.5" fill="#3a3a3a"/>
<clipPath id="clipC640"><path d="M915.00,640.00 C917.50,639.82 924.82,639.70 930.00,638.90 C935.18,638.10 940.73,636.72 946.10,635.20 C951.47,633.68 956.83,631.78 962.20,629.80 C967.57,627.82 972.93,625.27 978.30,623.30 C983.67,621.33 989.03,619.42 994.40,618.00 C999.77,616.58 1005.67,615.88 1010.50,614.80 C1015.33,613.72 1019.82,612.77 1023.40,611.50 C1026.98,610.23 1028.78,609.70 1032.00,607.20 C1035.22,604.70 1039.12,600.25 1042.70,596.50 C1046.28,592.75 1050.62,587.87 1053.50,584.70 C1056.38,581.53 1057.58,579.68 1060.00,577.50 C1062.42,575.32 1065.35,573.78 1068.00,571.60 C1070.65,569.42 1073.25,566.52 1075.90,564.40 C1078.55,562.28 1080.98,560.42 1083.90,558.90 C1086.82,557.38 1090.08,556.17 1093.40,555.30 C1096.72,554.43 1100.08,554.23 1103.80,553.70 C1107.52,553.17 1112.40,552.77 1115.70,552.10 C1119.00,551.43 1121.22,550.83 1123.60,549.70 C1125.98,548.57 1127.87,547.08 1130.00,545.30 C1132.13,543.52 1134.28,541.25 1136.40,539.00 C1138.52,536.75 1140.58,534.18 1142.70,531.80 C1144.82,529.42 1146.97,526.70 1149.10,524.70 C1151.23,522.70 1153.77,520.73 1155.50,519.80 C1157.23,518.87 1157.92,518.77 1159.50,519.10 C1161.08,519.43 1163.00,519.92 1165.00,521.80 C1167.00,523.68 1169.35,526.63 1171.50,530.40 C1173.65,534.17 1175.75,538.85 1177.90,544.40 C1180.05,549.95 1182.25,556.90 1184.40,563.70 C1186.55,570.50 1188.65,578.40 1190.80,585.20 C1192.95,592.00 1195.15,598.95 1197.30,604.50 C1199.45,610.05 1201.55,614.55 1203.70,618.50 C1205.85,622.45 1207.52,625.33 1210.20,628.20 C1212.88,631.07 1216.40,633.83 1219.80,635.70 C1223.20,637.57 1227.23,638.68 1230.60,639.40 C1233.97,640.12 1238.43,639.90 1240.00,640.00 L1240.00,640.00 L915.00,640.00 Z"/></clipPath>
<clipPath id="clipA640"><path d="M795.30,640.00 C800.67,639.90 817.53,639.97 827.50,639.40 C837.47,638.83 847.43,637.33 855.10,636.60 C862.77,635.87 866.60,635.38 873.50,635.00 C880.40,634.62 889.58,634.57 896.50,634.30 C903.42,634.03 909.42,633.70 915.00,633.40 C920.58,633.10 924.82,633.18 930.00,632.50 C935.18,631.82 940.73,630.83 946.10,629.30 C951.47,627.77 956.83,625.72 962.20,623.30 C967.57,620.88 972.93,617.65 978.30,614.80 C983.67,611.95 989.03,608.88 994.40,606.20 C999.77,603.52 1005.13,601.03 1010.50,598.70 C1015.87,596.37 1021.23,594.45 1026.60,592.20 C1031.97,589.95 1037.33,587.70 1042.70,585.20 C1048.07,582.70 1054.58,579.33 1058.80,577.20 C1063.02,575.07 1064.48,574.20 1068.00,572.40 C1071.52,570.60 1075.93,568.25 1079.90,566.40 C1083.87,564.55 1087.82,562.95 1091.80,561.30 C1095.78,559.65 1099.82,557.90 1103.80,556.50 C1107.78,555.10 1111.73,554.03 1115.70,552.90 C1119.67,551.77 1124.28,550.43 1127.60,549.70 C1130.92,548.97 1132.95,548.67 1135.60,548.50 C1138.25,548.33 1140.85,548.37 1143.50,548.70 C1146.15,549.03 1148.98,549.62 1151.50,550.50 C1154.02,551.38 1155.98,552.15 1158.60,554.00 C1161.22,555.85 1164.33,558.37 1167.20,561.60 C1170.07,564.83 1172.93,568.93 1175.80,573.40 C1178.67,577.87 1181.53,583.22 1184.40,588.40 C1187.27,593.58 1190.13,599.67 1193.00,604.50 C1195.87,609.33 1198.73,613.55 1201.60,617.40 C1204.47,621.25 1207.17,624.92 1210.20,627.60 C1213.23,630.28 1216.40,631.88 1219.80,633.50 C1223.20,635.12 1226.12,636.32 1230.60,637.30 C1235.08,638.28 1243.13,638.95 1246.70,639.40 C1250.27,639.85 1251.12,639.90 1252.00,640.00 L1252.00,640.00 L795.30,640.00 Z"/></clipPath>
<path d="M795.30,640.00 C800.67,639.90 817.53,639.97 827.50,639.40 C837.47,638.83 847.43,637.33 855.10,636.60 C862.77,635.87 866.60,635.38 873.50,635.00 C880.40,634.62 889.58,634.57 896.50,634.30 C903.42,634.03 909.42,633.70 915.00,633.40 C920.58,633.10 924.82,633.18 930.00,632.50 C935.18,631.82 940.73,630.83 946.10,629.30 C951.47,627.77 956.83,625.72 962.20,623.30 C967.57,620.88 972.93,617.65 978.30,614.80 C983.67,611.95 989.03,608.88 994.40,606.20 C999.77,603.52 1005.13,601.03 1010.50,598.70 C1015.87,596.37 1021.23,594.45 1026.60,592.20 C1031.97,589.95 1037.33,587.70 1042.70,585.20 C1048.07,582.70 1054.58,579.33 1058.80,577.20 C1063.02,575.07 1064.48,574.20 1068.00,572.40 C1071.52,570.60 1075.93,568.25 1079.90,566.40 C1083.87,564.55 1087.82,562.95 1091.80,561.30 C1095.78,559.65 1099.82,557.90 1103.80,556.50 C1107.78,555.10 1111.73,554.03 1115.70,552.90 C1119.67,551.77 1124.28,550.43 1127.60,549.70 C1130.92,548.97 1132.95,548.67 1135.60,548.50 C1138.25,548.33 1140.85,548.37 1143.50,548.70 C1146.15,549.03 1148.98,549.62 1151.50,550.50 C1154.02,551.38 1155.98,552.15 1158.60,554.00 C1161.22,555.85 1164.33,558.37 1167.20,561.60 C1170.07,564.83 1172.93,568.93 1175.80,573.40 C1178.67,577.87 1181.53,583.22 1184.40,588.40 C1187.27,593.58 1190.13,599.67 1193.00,604.50 C1195.87,609.33 1198.73,613.55 1201.60,617.40 C1204.47,621.25 1207.17,624.92 1210.20,627.60 C1213.23,630.28 1216.40,631.88 1219.80,633.50 C1223.20,635.12 1226.12,636.32 1230.60,637.30 C1235.08,638.28 1243.13,638.95 1246.70,639.40 C1250.27,639.85 1251.12,639.90 1252.00,640.00 L1252.00,640.00 L795.30,640.00 Z" fill="#f4ddc7"/>
<path d="M915.00,640.00 C917.50,639.82 924.82,639.70 930.00,638.90 C935.18,638.10 940.73,636.72 946.10,635.20 C951.47,633.68 956.83,631.78 962.20,629.80 C967.57,627.82 972.93,625.27 978.30,623.30 C983.67,621.33 989.03,619.42 994.40,618.00 C999.77,616.58 1005.67,615.88 1010.50,614.80 C1015.33,613.72 1019.82,612.77 1023.40,611.50 C1026.98,610.23 1028.78,609.70 1032.00,607.20 C1035.22,604.70 1039.12,600.25 1042.70,596.50 C1046.28,592.75 1050.62,587.87 1053.50,584.70 C1056.38,581.53 1057.58,579.68 1060.00,577.50 C1062.42,575.32 1065.35,573.78 1068.00,571.60 C1070.65,569.42 1073.25,566.52 1075.90,564.40 C1078.55,562.28 1080.98,560.42 1083.90,558.90 C1086.82,557.38 1090.08,556.17 1093.40,555.30 C1096.72,554.43 1100.08,554.23 1103.80,553.70 C1107.52,553.17 1112.40,552.77 1115.70,552.10 C1119.00,551.43 1121.22,550.83 1123.60,549.70 C1125.98,548.57 1127.87,547.08 1130.00,545.30 C1132.13,543.52 1134.28,541.25 1136.40,539.00 C1138.52,536.75 1140.58,534.18 1142.70,531.80 C1144.82,529.42 1146.97,526.70 1149.10,524.70 C1151.23,522.70 1153.77,520.73 1155.50,519.80 C1157.23,518.87 1157.92,518.77 1159.50,519.10 C1161.08,519.43 1163.00,519.92 1165.00,521.80 C1167.00,523.68 1169.35,526.63 1171.50,530.40 C1173.65,534.17 1175.75,538.85 1177.90,544.40 C1180.05,549.95 1182.25,556.90 1184.40,563.70 C1186.55,570.50 1188.65,578.40 1190.80,585.20 C1192.95,592.00 1195.15,598.95 1197.30,604.50 C1199.45,610.05 1201.55,614.55 1203.70,618.50 C1205.85,622.45 1207.52,625.33 1210.20,628.20 C1212.88,631.07 1216.40,633.83 1219.80,635.70 C1223.20,637.57 1227.23,638.68 1230.60,639.40 C1233.97,640.12 1238.43,639.90 1240.00,640.00 L1240.00,640.00 L915.00,640.00 Z" fill="#cadaec"/>
<path d="M795.30,640.00 C800.67,639.90 817.53,639.97 827.50,639.40 C837.47,638.83 847.43,637.33 855.10,636.60 C862.77,635.87 866.60,635.38 873.50,635.00 C880.40,634.62 889.58,634.57 896.50,634.30 C903.42,634.03 909.42,633.70 915.00,633.40 C920.58,633.10 924.82,633.18 930.00,632.50 C935.18,631.82 940.73,630.83 946.10,629.30 C951.47,627.77 956.83,625.72 962.20,623.30 C967.57,620.88 972.93,617.65 978.30,614.80 C983.67,611.95 989.03,608.88 994.40,606.20 C999.77,603.52 1005.13,601.03 1010.50,598.70 C1015.87,596.37 1021.23,594.45 1026.60,592.20 C1031.97,589.95 1037.33,587.70 1042.70,585.20 C1048.07,582.70 1054.58,579.33 1058.80,577.20 C1063.02,575.07 1064.48,574.20 1068.00,572.40 C1071.52,570.60 1075.93,568.25 1079.90,566.40 C1083.87,564.55 1087.82,562.95 1091.80,561.30 C1095.78,559.65 1099.82,557.90 1103.80,556.50 C1107.78,555.10 1111.73,554.03 1115.70,552.90 C1119.67,551.77 1124.28,550.43 1127.60,549.70 C1130.92,548.97 1132.95,548.67 1135.60,548.50 C1138.25,548.33 1140.85,548.37 1143.50,548.70 C1146.15,549.03 1148.98,549.62 1151.50,550.50 C1154.02,551.38 1155.98,552.15 1158.60,554.00 C1161.22,555.85 1164.33,558.37 1167.20,561.60 C1170.07,564.83 1172.93,568.93 1175.80,573.40 C1178.67,577.87 1181.53,583.22 1184.40,588.40 C1187.27,593.58 1190.13,599.67 1193.00,604.50 C1195.87,609.33 1198.73,613.55 1201.60,617.40 C1204.47,621.25 1207.17,624.92 1210.20,627.60 C1213.23,630.28 1216.40,631.88 1219.80,633.50 C1223.20,635.12 1226.12,636.32 1230.60,637.30 C1235.08,638.28 1243.13,638.95 1246.70,639.40 C1250.27,639.85 1251.12,639.90 1252.00,640.00 L1252.00,640.00 L795.30,640.00 Z" fill="#cec6bb" clip-path="url(#clipC640)"/>
<path d="M915.00,640.00 C917.50,639.82 924.82,639.70 930.00,638.90 C935.18,638.10 940.73,636.72 946.10,635.20 C951.47,633.68 956.83,631.78 962.20,629.80 C967.57,627.82 972.93,625.27 978.30,623.30 C983.67,621.33 989.03,619.42 994.40,618.00 C999.77,616.58 1005.67,615.88 1010.50,614.80 C1015.33,613.72 1019.82,612.77 1023.40,611.50 C1026.98,610.23 1028.78,609.70 1032.00,607.20 C1035.22,604.70 1039.12,600.25 1042.70,596.50 C1046.28,592.75 1050.62,587.87 1053.50,584.70 C1056.38,581.53 1057.58,579.68 1060.00,577.50 C1062.42,575.32 1065.35,573.78 1068.00,571.60 C1070.65,569.42 1073.25,566.52 1075.90,564.40 C1078.55,562.28 1080.98,560.42 1083.90,558.90 C1086.82,557.38 1090.08,556.17 1093.40,555.30 C1096.72,554.43 1100.08,554.23 1103.80,553.70 C1107.52,553.17 1112.40,552.77 1115.70,552.10 C1119.00,551.43 1121.22,550.83 1123.60,549.70 C1125.98,548.57 1127.87,547.08 1130.00,545.30 C1132.13,543.52 1134.28,541.25 1136.40,539.00 C1138.52,536.75 1140.58,534.18 1142.70,531.80 C1144.82,529.42 1146.97,526.70 1149.10,524.70 C1151.23,522.70 1153.77,520.73 1155.50,519.80 C1157.23,518.87 1157.92,518.77 1159.50,519.10 C1161.08,519.43 1163.00,519.92 1165.00,521.80 C1167.00,523.68 1169.35,526.63 1171.50,530.40 C1173.65,534.17 1175.75,538.85 1177.90,544.40 C1180.05,549.95 1182.25,556.90 1184.40,563.70 C1186.55,570.50 1188.65,578.40 1190.80,585.20 C1192.95,592.00 1195.15,598.95 1197.30,604.50 C1199.45,610.05 1201.55,614.55 1203.70,618.50 C1205.85,622.45 1207.52,625.33 1210.20,628.20 C1212.88,631.07 1216.40,633.83 1219.80,635.70 C1223.20,637.57 1227.23,638.68 1230.60,639.40 C1233.97,640.12 1238.43,639.90 1240.00,640.00" fill="none" stroke="#4a7ebf" stroke-width="2"/>
<path d="M915.00,640.00 C917.50,639.82 924.82,639.70 930.00,638.90 C935.18,638.10 940.73,636.72 946.10,635.20 C951.47,633.68 956.83,631.78 962.20,629.80 C967.57,627.82 972.93,625.27 978.30,623.30 C983.67,621.33 989.03,619.42 994.40,618.00 C999.77,616.58 1005.67,615.88 1010.50,614.80 C1015.33,613.72 1019.82,612.77 1023.40,611.50 C1026.98,610.23 1028.78,609.70 1032.00,607.20 C1035.22,604.70 1039.12,600.25 1042.70,596.50 C1046.28,592.75 1050.62,587.87 1053.50,584.70 C1056.38,581.53 1057.58,579.68 1060.00,577.50 C1062.42,575.32 1065.35,573.78 1068.00,571.60 C1070.65,569.42 1073.25,566.52 1075.90,564.40 C1078.55,562.28 1080.98,560.42 1083.90,558.90 C1086.82,557.38 1090.08,556.17 1093.40,555.30 C1096.72,554.43 1100.08,554.23 1103.80,553.70 C1107.52,553.17 1112.40,552.77 1115.70,552.10 C1119.00,551.43 1121.22,550.83 1123.60,549.70 C1125.98,548.57 1127.87,547.08 1130.00,545.30 C1132.13,543.52 1134.28,541.25 1136.40,539.00 C1138.52,536.75 1140.58,534.18 1142.70,531.80 C1144.82,529.42 1146.97,526.70 1149.10,524.70 C1151.23,522.70 1153.77,520.73 1155.50,519.80 C1157.23,518.87 1157.92,518.77 1159.50,519.10 C1161.08,519.43 1163.00,519.92 1165.00,521.80 C1167.00,523.68 1169.35,526.63 1171.50,530.40 C1173.65,534.17 1175.75,538.85 1177.90,544.40 C1180.05,549.95 1182.25,556.90 1184.40,563.70 C1186.55,570.50 1188.65,578.40 1190.80,585.20 C1192.95,592.00 1195.15,598.95 1197.30,604.50 C1199.45,610.05 1201.55,614.55 1203.70,618.50 C1205.85,622.45 1207.52,625.33 1210.20,628.20 C1212.88,631.07 1216.40,633.83 1219.80,635.70 C1223.20,637.57 1227.23,638.68 1230.60,639.40 C1233.97,640.12 1238.43,639.90 1240.00,640.00" fill="none" stroke="#6a8196" stroke-width="2" clip-path="url(#clipA640)"/>
<path d="M795.30,640.00 C800.67,639.90 817.53,639.97 827.50,639.40 C837.47,638.83 847.43,637.33 855.10,636.60 C862.77,635.87 866.60,635.38 873.50,635.00 C880.40,634.62 889.58,634.57 896.50,634.30 C903.42,634.03 909.42,633.70 915.00,633.40 C920.58,633.10 924.82,633.18 930.00,632.50 C935.18,631.82 940.73,630.83 946.10,629.30 C951.47,627.77 956.83,625.72 962.20,623.30 C967.57,620.88 972.93,617.65 978.30,614.80 C983.67,611.95 989.03,608.88 994.40,606.20 C999.77,603.52 1005.13,601.03 1010.50,598.70 C1015.87,596.37 1021.23,594.45 1026.60,592.20 C1031.97,589.95 1037.33,587.70 1042.70,585.20 C1048.07,582.70 1054.58,579.33 1058.80,577.20 C1063.02,575.07 1064.48,574.20 1068.00,572.40 C1071.52,570.60 1075.93,568.25 1079.90,566.40 C1083.87,564.55 1087.82,562.95 1091.80,561.30 C1095.78,559.65 1099.82,557.90 1103.80,556.50 C1107.78,555.10 1111.73,554.03 1115.70,552.90 C1119.67,551.77 1124.28,550.43 1127.60,549.70 C1130.92,548.97 1132.95,548.67 1135.60,548.50 C1138.25,548.33 1140.85,548.37 1143.50,548.70 C1146.15,549.03 1148.98,549.62 1151.50,550.50 C1154.02,551.38 1155.98,552.15 1158.60,554.00 C1161.22,555.85 1164.33,558.37 1167.20,561.60 C1170.07,564.83 1172.93,568.93 1175.80,573.40 C1178.67,577.87 1181.53,583.22 1184.40,588.40 C1187.27,593.58 1190.13,599.67 1193.00,604.50 C1195.87,609.33 1198.73,613.55 1201.60,617.40 C1204.47,621.25 1207.17,624.92 1210.20,627.60 C1213.23,630.28 1216.40,631.88 1219.80,633.50 C1223.20,635.12 1226.12,636.32 1230.60,637.30 C1235.08,638.28 1243.13,638.95 1246.70,639.40 C1250.27,639.85 1251.12,639.90 1252.00,640.00" fill="none" stroke="#e0893c" stroke-width="2.1"/>
<rect x="795.30" y="639.00" width="456.70" height="2" fill="#4d4338"/>
<rect x="768.30" y="639.30" width="5" height="1.4" fill="#3a3a3a"/>
<text x="765.8" y="644.50" font-size="29.8" fill="#1a1a1a" text-anchor="end">0.00</text>
<rect x="768.30" y="609.18" width="5" height="1.4" fill="#3a3a3a"/>
<text x="765.8" y="614.38" font-size="29.8" fill="#1a1a1a" text-anchor="end">0.02</text>
<rect x="768.30" y="579.06" width="5" height="1.4" fill="#3a3a3a"/>
<text x="765.8" y="584.26" font-size="29.8" fill="#1a1a1a" text-anchor="end">0.04</text>
<rect x="768.30" y="548.94" width="5" height="1.4" fill="#3a3a3a"/>
<text x="765.8" y="554.14" font-size="29.8" fill="#1a1a1a" text-anchor="end">0.06</text>
<rect x="768.30" y="518.82" width="5" height="1.4" fill="#3a3a3a"/>
<text x="765.8" y="524.02" font-size="29.8" fill="#1a1a1a" text-anchor="end">0.08</text>
<rect x="768.30" y="488.70" width="5" height="1.4" fill="#3a3a3a"/>
<text x="765.8" y="493.90" font-size="29.8" fill="#1a1a1a" text-anchor="end">0.10</text>
<rect x="768.30" y="458.58" width="5" height="1.4" fill="#3a3a3a"/>
<text x="765.8" y="463.78" font-size="29.8" fill="#1a1a1a" text-anchor="end">0.12</text>
<rect x="768.30" y="428.46" width="5" height="1.4" fill="#3a3a3a"/>
<text x="765.8" y="433.66" font-size="29.8" fill="#1a1a1a" text-anchor="end">0.14</text>
<rect x="854.70" y="640.50" width="1.4" height="5" fill="#3a3a3a"/>
<text x="856.00" y="676.20" font-size="29.8" fill="#1a1a1a" text-anchor="middle">60</text>
<rect x="958.20" y="640.50" width="1.4" height="5" fill="#3a3a3a"/>
<text x="959.50" y="676.20" font-size="29.8" fill="#1a1a1a" text-anchor="middle">70</text>
<rect x="1061.70" y="640.50" width="1.4" height="5" fill="#3a3a3a"/>
<text x="1063.00" y="676.20" font-size="29.8" fill="#1a1a1a" text-anchor="middle">80</text>
<rect x="1165.20" y="640.50" width="1.4" height="5" fill="#3a3a3a"/>
<text x="1166.50" y="676.20" font-size="29.8" fill="#1a1a1a" text-anchor="middle">90</text>
<text x="998.80" y="714.80" font-size="30.3" fill="#1a1a1a" text-anchor="middle">Age at death</text>
<text x="999.6" y="442.80" font-size="30" fill="#1a1a1a" text-anchor="middle">Male</text>
<g stroke="#1a1a1a" stroke-width="2.0" stroke-linecap="round"><line x1="1117.40" y1="493.40" x2="1121.20" y2="493.40"/><line x1="1116.95" y1="494.18" x2="1118.85" y2="497.47"/><line x1="1116.05" y1="494.18" x2="1114.15" y2="497.47"/><line x1="1115.60" y1="493.40" x2="1111.80" y2="493.40"/><line x1="1116.05" y1="492.62" x2="1114.15" y2="489.33"/><line x1="1116.95" y1="492.62" x2="1118.85" y2="489.33"/></g>
<rect x="792.80" y="466.20" width="54.3" height="19" fill="#cddcec" stroke="#3f74ba" stroke-width="2.2"/>
<rect x="792.80" y="504.80" width="54.3" height="19" fill="#f6e0cb" stroke="#e07f2d" stroke-width="2.2"/>
<text x="853.60" y="484.50" font-size="30" fill="#1a1a1a">control</text>
<text x="856.40" y="523.00" font-size="30" fill="#1a1a1a">AD</text>
<line x1="809.00" y1="765.55" x2="809.00" y2="1131" stroke="#9a9a9a" stroke-width="2.3" stroke-dasharray="2.3 5.252"/>
<line x1="845.45" y1="765.55" x2="845.45" y2="1131" stroke="#9a9a9a" stroke-width="2.3" stroke-dasharray="2.3 5.252"/>
<line x1="881.90" y1="765.55" x2="881.90" y2="1131" stroke="#9a9a9a" stroke-width="2.3" stroke-dasharray="2.3 5.252"/>
<line x1="918.35" y1="765.55" x2="918.35" y2="1131" stroke="#9a9a9a" stroke-width="2.3" stroke-dasharray="2.3 5.252"/>
<line x1="954.80" y1="765.55" x2="954.80" y2="1131" stroke="#9a9a9a" stroke-width="2.3" stroke-dasharray="2.3 5.252"/>
<line x1="991.25" y1="765.55" x2="991.25" y2="1131" stroke="#9a9a9a" stroke-width="2.3" stroke-dasharray="2.3 5.252"/>
<line x1="1027.70" y1="765.55" x2="1027.70" y2="1131" stroke="#9a9a9a" stroke-width="2.3" stroke-dasharray="2.3 5.252"/>
<line x1="1064.15" y1="765.55" x2="1064.15" y2="1131" stroke="#9a9a9a" stroke-width="2.3" stroke-dasharray="2.3 5.252"/>
<line x1="1100.60" y1="765.55" x2="1100.60" y2="1131" stroke="#9a9a9a" stroke-width="2.3" stroke-dasharray="2.3 5.252"/>
<line x1="1137.05" y1="765.55" x2="1137.05" y2="1131" stroke="#9a9a9a" stroke-width="2.3" stroke-dasharray="2.3 5.252"/>
<line x1="1173.50" y1="765.55" x2="1173.50" y2="1131" stroke="#9a9a9a" stroke-width="2.3" stroke-dasharray="2.3 5.252"/>
<line x1="1209.95" y1="765.55" x2="1209.95" y2="1131" stroke="#9a9a9a" stroke-width="2.3" stroke-dasharray="2.3 5.252"/>
<line x1="1246.40" y1="765.55" x2="1246.40" y2="1131" stroke="#9a9a9a" stroke-width="2.3" stroke-dasharray="2.3 5.252"/>
<line x1="887.7" y1="766.2" x2="887.7" y2="1137.80" stroke="#1a1a1a" stroke-width="3.3" stroke-dasharray="12.1 6.8"/>
<rect x="786.20" y="758.10" width="509.60" height="379.70" fill="none" stroke="#1a1a1a" stroke-width="2.9"/>
<rect x="780.5" y="785.20" width="6" height="2.4" fill="#1a1a1a"/>
<text x="773.2" y="797.20" font-size="29.8" fill="#1a1a1a" text-anchor="end">0.25</text>
<rect x="780.5" y="925.90" width="6" height="2.4" fill="#1a1a1a"/>
<text x="773.2" y="937.90" font-size="29.8" fill="#1a1a1a" text-anchor="end">0.20</text>
<rect x="780.5" y="1066.60" width="6" height="2.4" fill="#1a1a1a"/>
<text x="773.2" y="1078.60" font-size="29.8" fill="#1a1a1a" text-anchor="end">0.15</text>
<rect x="807.80" y="1137.80" width="2.4" height="5.5" fill="#1a1a1a"/>
<text transform="translate(817.40,1151.2) rotate(-90)" font-size="29.5" fill="#1a1a1a" text-anchor="end">0</text>
<rect x="844.25" y="1137.80" width="2.4" height="5.5" fill="#1a1a1a"/>
<text transform="translate(853.85,1151.2) rotate(-90)" font-size="29.5" fill="#1a1a1a" text-anchor="end">500</text>
<rect x="880.70" y="1137.80" width="2.4" height="5.5" fill="#1a1a1a"/>
<text transform="translate(890.30,1151.2) rotate(-90)" font-size="29.5" fill="#1a1a1a" text-anchor="end">1000</text>
<rect x="917.15" y="1137.80" width="2.4" height="5.5" fill="#1a1a1a"/>
<text transform="translate(926.75,1151.2) rotate(-90)" font-size="29.5" fill="#1a1a1a" text-anchor="end">1500</text>
<rect x="953.60" y="1137.80" width="2.4" height="5.5" fill="#1a1a1a"/>
<text transform="translate(963.20,1151.2) rotate(-90)" font-size="29.5" fill="#1a1a1a" text-anchor="end">2000</text>
<rect x="990.05" y="1137.80" width="2.4" height="5.5" fill="#1a1a1a"/>
<text transform="translate(999.65,1151.2) rotate(-90)" font-size="29.5" fill="#1a1a1a" text-anchor="end">2500</text>
<rect x="1026.50" y="1137.80" width="2.4" height="5.5" fill="#1a1a1a"/>
<text transform="translate(1036.10,1151.2) rotate(-90)" font-size="29.5" fill="#1a1a1a" text-anchor="end">3000</text>
<rect x="1062.95" y="1137.80" width="2.4" height="5.5" fill="#1a1a1a"/>
<text transform="translate(1072.55,1151.2) rotate(-90)" font-size="29.5" fill="#1a1a1a" text-anchor="end">3500</text>
<rect x="1099.40" y="1137.80" width="2.4" height="5.5" fill="#1a1a1a"/>
<text transform="translate(1109.00,1151.2) rotate(-90)" font-size="29.5" fill="#1a1a1a" text-anchor="end">4000</text>
<rect x="1135.85" y="1137.80" width="2.4" height="5.5" fill="#1a1a1a"/>
<text transform="translate(1145.45,1151.2) rotate(-90)" font-size="29.5" fill="#1a1a1a" text-anchor="end">4500</text>
<rect x="1172.30" y="1137.80" width="2.4" height="5.5" fill="#1a1a1a"/>
<text transform="translate(1181.90,1151.2) rotate(-90)" font-size="29.5" fill="#1a1a1a" text-anchor="end">5000</text>
<rect x="1208.75" y="1137.80" width="2.4" height="5.5" fill="#1a1a1a"/>
<text transform="translate(1218.35,1151.2) rotate(-90)" font-size="29.5" fill="#1a1a1a" text-anchor="end">5500</text>
<rect x="1245.20" y="1137.80" width="2.4" height="5.5" fill="#1a1a1a"/>
<text transform="translate(1254.80,1151.2) rotate(-90)" font-size="29.5" fill="#1a1a1a" text-anchor="end">6000</text>
<text transform="translate(704.8,952.1) rotate(-90)" font-size="30.2" fill="#1a1a1a" text-anchor="middle">silhouette score</text>
<text x="1032.1" y="1252.2" font-size="30.4" fill="#1a1a1a" text-anchor="middle">no. of selected features</text>
<circle cx="809" cy="864" r="5.6" fill="#4a7dbf" stroke="#3b6cad" stroke-width="0.9"/>
<circle cx="814.4" cy="804.5" r="5.6" fill="#4a7dbf" stroke="#3b6cad" stroke-width="0.9"/>
<circle cx="847.4" cy="867.5" r="5.6" fill="#4a7dbf" stroke="#3b6cad" stroke-width="0.9"/>
<circle cx="887.6" cy="881.9" r="5.6" fill="#4a7dbf" stroke="#3b6cad" stroke-width="0.9"/>
<circle cx="911.7" cy="916.5" r="5.6" fill="#4a7dbf" stroke="#3b6cad" stroke-width="0.9"/>
<circle cx="942.4" cy="937.6" r="5.6" fill="#4a7dbf" stroke="#3b6cad" stroke-width="0.9"/>
<circle cx="970.6" cy="949.4" r="5.6" fill="#4a7dbf" stroke="#3b6cad" stroke-width="0.9"/>
<circle cx="997.6" cy="953.1" r="5.6" fill="#4a7dbf" stroke="#3b6cad" stroke-width="0.9"/>
<circle cx="1024.3" cy="995.8" r="5.6" fill="#4a7dbf" stroke="#3b6cad" stroke-width="0.9"/>
<circle cx="1047.5" cy="1004.6" r="5.6" fill="#4a7dbf" stroke="#3b6cad" stroke-width="0.9"/>
<circle cx="1071.5" cy="995.8" r="5.6" fill="#4a7dbf" stroke="#3b6cad" stroke-width="0.9"/>
<circle cx="1095.2" cy="1029.2" r="5.6" fill="#4a7dbf" stroke="#3b6cad" stroke-width="0.9"/>
<circle cx="1118.3" cy="1010.6" r="5.6" fill="#4a7dbf" stroke="#3b6cad" stroke-width="0.9"/>
<circle cx="1139.9" cy="1018.2" r="5.6" fill="#4a7dbf" stroke="#3b6cad" stroke-width="0.9"/>
<circle cx="1159.3" cy="1038" r="5.6" fill="#4a7dbf" stroke="#3b6cad" stroke-width="0.9"/>
<circle cx="1177" cy="1030" r="5.6" fill="#4a7dbf" stroke="#3b6cad" stroke-width="0.9"/>
<circle cx="1194.7" cy="1035.1" r="5.6" fill="#4a7dbf" stroke="#3b6cad" stroke-width="0.9"/>
<circle cx="1210.3" cy="1047.7" r="5.6" fill="#4a7dbf" stroke="#3b6cad" stroke-width="0.9"/>
<circle cx="1224.3" cy="1085.7" r="5.6" fill="#4a7dbf" stroke="#3b6cad" stroke-width="0.9"/>
<circle cx="1236.4" cy="1063.4" r="5.6" fill="#4a7dbf" stroke="#3b6cad" stroke-width="0.9"/>
<circle cx="1247.2" cy="1048.6" r="5.6" fill="#4a7dbf" stroke="#3b6cad" stroke-width="0.9"/>
<circle cx="1255.3" cy="1065.8" r="5.6" fill="#4a7dbf" stroke="#3b6cad" stroke-width="0.9"/>
<circle cx="1262.5" cy="1066.3" r="5.6" fill="#4a7dbf" stroke="#3b6cad" stroke-width="0.9"/>
<circle cx="1266.8" cy="1037.7" r="5.6" fill="#4a7dbf" stroke="#3b6cad" stroke-width="0.9"/>
<circle cx="1270.6" cy="1065.8" r="5.6" fill="#4a7dbf" stroke="#3b6cad" stroke-width="0.9"/>
<circle cx="1273.9" cy="1054.4" r="5.6" fill="#4a7dbf" stroke="#3b6cad" stroke-width="0.9"/>
<circle cx="1273.2" cy="1066" r="5.6" fill="#4a7dbf" stroke="#3b6cad" stroke-width="0.9"/>
<polyline points="809,864 814.4,804.5 847.4,867.5 887.6,881.9 911.7,916.5 942.4,937.6 970.6,949.4 997.6,953.1 1024.3,995.8 1047.5,1004.6 1071.5,995.8 1095.2,1029.2 1118.3,1010.6 1139.9,1018.2 1159.3,1038 1177,1030 1194.7,1035.1 1210.3,1047.7 1224.3,1085.7 1236.4,1063.4 1247.2,1048.6 1255.3,1065.8 1262.5,1066.3 1266.8,1037.7 1270.6,1065.8 1273.9,1054.4 1273.2,1066" fill="none" stroke="#d0262b" stroke-width="5.2" stroke-linejoin="round"/>
</svg></body></html>
